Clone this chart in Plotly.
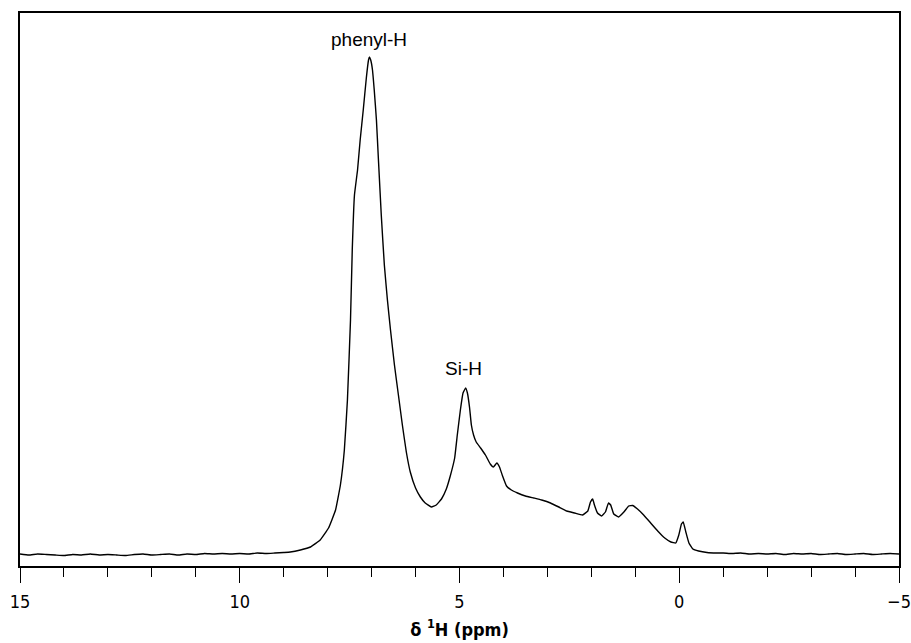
import plotly.graph_objects as go

# Chemical shift (ppm) and intensity (arbitrary units)
ppm = [
    15.0, 14.8, 14.6, 14.4, 14.2, 14.0, 13.8, 13.6, 13.4, 13.2, 13.0, 12.8, 12.6, 12.4, 12.2,
    12.0, 11.8, 11.6, 11.4, 11.2, 11.0, 10.8, 10.6, 10.4, 10.2, 10.0, 9.8, 9.6, 9.4, 9.2, 9.0,
    8.85, 8.62, 8.39, 8.17, 7.98, 7.82, 7.71, 7.62, 7.55, 7.48, 7.44, 7.39, 7.32, 7.26, 7.19,
    7.12, 7.07, 7.05, 7.02, 6.98, 6.94, 6.89, 6.85, 6.78, 6.71, 6.64, 6.57, 6.48, 6.39, 6.30,
    6.21, 6.12, 6.00, 5.89, 5.78, 5.64, 5.53, 5.41, 5.30, 5.21, 5.11, 5.05, 4.98, 4.92, 4.86,
    4.82, 4.77, 4.73, 4.68, 4.62, 4.52, 4.41, 4.30, 4.23, 4.15, 4.09, 4.02, 3.93, 3.82, 3.68,
    3.50, 3.31, 3.13, 2.93, 2.74, 2.56, 2.38, 2.20, 2.08, 2.02, 1.97, 1.93, 1.86, 1.77, 1.68,
    1.61, 1.56, 1.49, 1.38, 1.26, 1.15, 1.06, 0.95, 0.81, 0.65, 0.49, 0.33, 0.19, 0.08, 0.01,
    -0.05, -0.09, -0.15, -0.22, -0.31, -0.44, -0.63, -0.85,
    -1.0, -1.2, -1.4, -1.6, -1.8, -2.0, -2.2, -2.4, -2.6, -2.8, -3.0, -3.2, -3.4, -3.6, -3.8,
    -4.0, -4.2, -4.4, -4.6, -4.8, -5.0,
]
intensity = [
    1, 0, 1, 0.5, 0, -0.5, 0.5, 0, 1, 0, 0.5, 0, -0.5, 0.5, 1,
    0, 0.5, 1, 0, 1, 0.5, 1.5, 1, 1.5, 1, 1.5, 1, 2, 1.5, 2, 2.5,
    3, 5, 8, 15, 27, 45, 70, 105, 155, 235, 305, 360, 385, 415, 445,
    477, 495, 498, 495, 485, 465, 435, 400, 340, 290, 255, 225, 190, 160, 130,
    103, 83, 67, 58, 52, 48, 50, 56, 66, 79, 97, 120, 145, 162, 167,
    162, 147, 130, 120, 113, 107, 100, 91, 88, 92, 88, 79, 69, 65, 62,
    59, 57, 55, 52, 48, 44, 42, 40, 44, 53, 56, 50, 42, 39, 43,
    52, 50, 41, 38, 43, 49, 49.5, 46, 40, 32, 24, 17, 13, 12, 20,
    31, 33, 23, 12, 6, 4, 2.5, 2,
    2, 1.5, 2, 1, 1.5, 1, 1.5, 0.5, 1.5, 1, 1.5, 0.5, 1, 1.5, 0.5,
    1, 1.5, 0.5, 1, 1.5, 1,
]

x_ticks = [15, 10, 5, 0, -5]
peak_labels = ["phenyl-H", "Si-H"]
peak_label_ppm = [7.05, 4.91]
peak_label_y = [516, 187]

fig = go.Figure()
fig.add_trace(go.Scatter(
    x=ppm, y=intensity, mode="lines",
    line=dict(color="black", width=1.4, shape="spline", smoothing=0.3),
    showlegend=False, hoverinfo="skip",
))

for txt, px, py in zip(peak_labels, peak_label_ppm, peak_label_y):
    fig.add_annotation(
        x=px, y=py, xref="x", yref="y", text=txt, showarrow=False,
        font=dict(family="Liberation Sans, Arial, sans-serif", size=19, color="black"),
        xanchor="center", yanchor="middle",
    )

fig.update_layout(
    width=911, height=643,
    margin=dict(l=20, r=12, t=13, b=77, autoexpand=False),
    paper_bgcolor="white", plot_bgcolor="white",
    xaxis=dict(
        range=[15, -5], tickvals=x_ticks, ticks="outside", ticklen=15, tickwidth=1.3,
        tickcolor="black", showline=True, linecolor="black", linewidth=1.5, mirror=True,
        showgrid=False, zeroline=False, automargin=False, ticklabelstandoff=4,
        tickfont=dict(family="DejaVu Sans Condensed, Liberation Sans Narrow, Arial Narrow, sans-serif",
                      size=18, color="black"),
        minor=dict(dtick=1, ticks="outside", ticklen=9, tickwidth=1.3, tickcolor="black", showgrid=False),
        title=dict(text="<b>δ <sup>1</sup>H (ppm)</b>", standoff=12,
                   font=dict(family="DejaVu Sans Condensed, Liberation Sans Narrow, sans-serif",
                             size=18, color="black")),
    ),
    yaxis=dict(
        range=[-11, 542], showticklabels=False, ticks="", showgrid=False, zeroline=False,
        showline=True, linecolor="black", linewidth=1.5, mirror=True, automargin=False,
    ),
)

fig.write_html("out.html", config={"displayModeBar": False},
               post_script="document.body.style.margin='0';document.body.style.overflow='hidden';")
